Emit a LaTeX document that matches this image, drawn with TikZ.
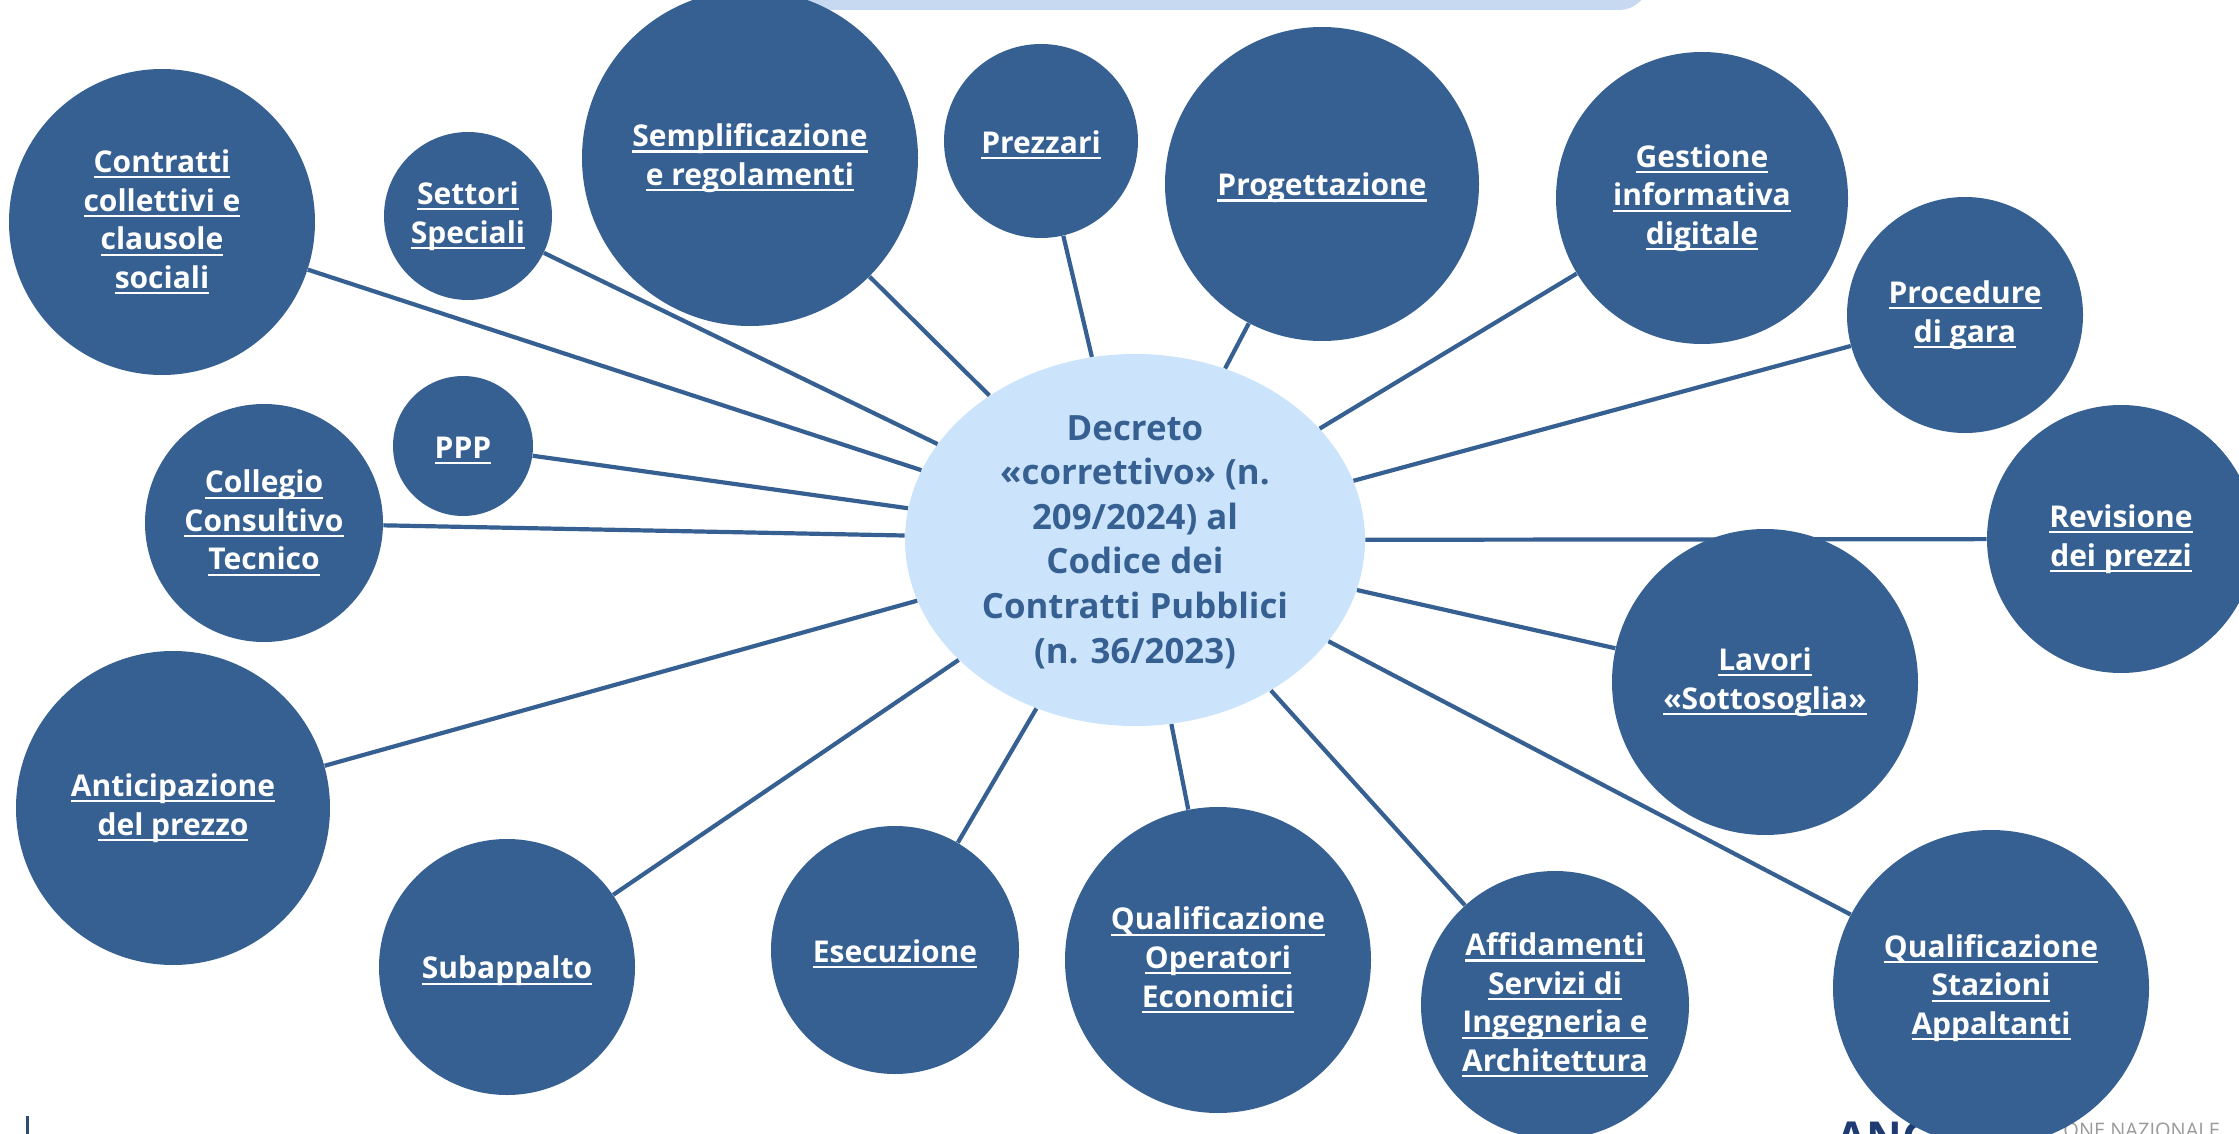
\documentclass[tikz,border=0pt]{standalone}
\usepackage{fontspec}
\setmainfont{Open Sans}
\usetikzlibrary{shapes.geometric}
\definecolor{cblue}{HTML}{366092}
\definecolor{clight}{HTML}{CCE4FB}
\definecolor{cbar}{HTML}{C6D9F0}
\definecolor{cnavy}{HTML}{1F3B73}
\definecolor{cgray}{HTML}{9A9A9A}
\newsavebox\ulbox
\newcommand\ulx[1]{\leavevmode\sbox\ulbox{#1}\rlap{\rule[-0.2em]{\wd\ulbox}{0.07em}}\usebox\ulbox}
\tikzset{
  bub/.style={circle, fill=cblue, draw=none, inner sep=0pt, text=white,
    font=\bfseries\fontsize{15}{19.3}\selectfont, align=center,
    execute at begin node={\rule{0pt}{15.2pt}}},
  spoke/.style={draw=cblue, line width=2.1pt},
  hub/.style={ellipse, fill=clight, draw=none, inner sep=0pt},
  hubtext/.style={text=cblue, font=\bfseries\fontsize{17.4}{22.3}\selectfont, align=center, inner sep=0pt},
}
\begin{document}
\begin{tikzpicture}[x=0.5pt,y=-0.5pt]
\useasboundingbox (0,0) rectangle (2239,1134);
\clip (0,0) rectangle (2239,1134);
% logo fragments
\node[anchor=north west, inner sep=0pt, text=cnavy, font=\bfseries\fontsize{22}{22}\selectfont] (logoA) at (1836,1121) {ANC};
\node[anchor=north west, inner sep=0pt, text=cgray, font=\fontsize{10}{10}\selectfont] (logoB) at (2063,1123) {ONE NAZIONALE};
\fill[cblue!80!black] (26,1116) rectangle (29,1134);
% top bar
\fill[cbar, rounded corners=15] (683,-40) rectangle (1649,10);
% hub
\node[hub, minimum width=230pt, minimum height=186pt] (ctr) at (1135,540) {};
\node[hubtext] (ctrtxt) at (1135,542) {Decreto\\«correttivo» (n.\\209/2024) al\\Codice dei\\Contratti Pubblici\\(n. 36/2023)};
% bubbles
\node[bub, minimum size=153pt] (c1) at (162,222) {\ulx{Contratti}\\\ulx{collettivi e}\\\ulx{clausole}\\\ulx{sociali}};
\node[bub, minimum size=84pt] (c2) at (468,216) {\ulx{Settori}\\\ulx{Speciali}};
\node[bub, minimum size=168pt] (c3) at (750,158) {\ulx{Semplificazione}\\\ulx{e regolamenti}};
\node[bub, minimum size=97pt] (c4) at (1041,141) {\ulx{Prezzari}};
\node[bub, minimum size=157pt] (c5) at (1322,184) {\ulx{Progettazione}};
\node[bub, minimum size=146pt] (c6) at (1702,198) {\ulx{Gestione}\\\ulx{informativa}\\\ulx{digitale}};
\node[bub, minimum size=118pt] (c7) at (1965,315) {\ulx{Procedure}\\\ulx{di gara}};
\node[bub, minimum size=134pt] (c8) at (2121,539) {\ulx{Revisione}\\\ulx{dei prezzi}};
\node[bub, minimum size=153pt] (c9) at (1765,682) {\ulx{Lavori}\\\ulx{«Sottosoglia»}};
\node[bub, minimum size=158pt] (c10) at (1991,988) {\ulx{Qualificazione}\\\ulx{Stazioni}\\\ulx{Appaltanti}};
\node[bub, minimum size=134pt] (c11) at (1555,1005) {\ulx{Affidamenti}\\\ulx{Servizi di}\\\ulx{Ingegneria e}\\\ulx{Architettura}};
\node[bub, minimum size=153pt] (c12) at (1218,960) {\ulx{Qualificazione}\\\ulx{Operatori}\\\ulx{Economici}};
\node[bub, minimum size=124pt] (c13) at (895,950) {\ulx{Esecuzione}};
\node[bub, minimum size=128pt] (c14) at (507,967) {\ulx{Subappalto}};
\node[bub, minimum size=157pt] (c15) at (173,808) {\ulx{Anticipazione}\\\ulx{del prezzo}};
\node[bub, minimum size=119pt] (c16) at (264,523) {\ulx{Collegio}\\\ulx{Consultivo}\\\ulx{Tecnico}};
\node[bub, minimum size=70pt] (c17) at (463,446) {\ulx{PPP}};
% spokes
\foreach \n in {c1,c2,c3,c4,c5,c6,c7,c8,c9,c10,c11,c12,c13,c14,c15,c16,c17}
  \draw[spoke] (\n) -- (ctr);
\end{tikzpicture}
\end{document}
